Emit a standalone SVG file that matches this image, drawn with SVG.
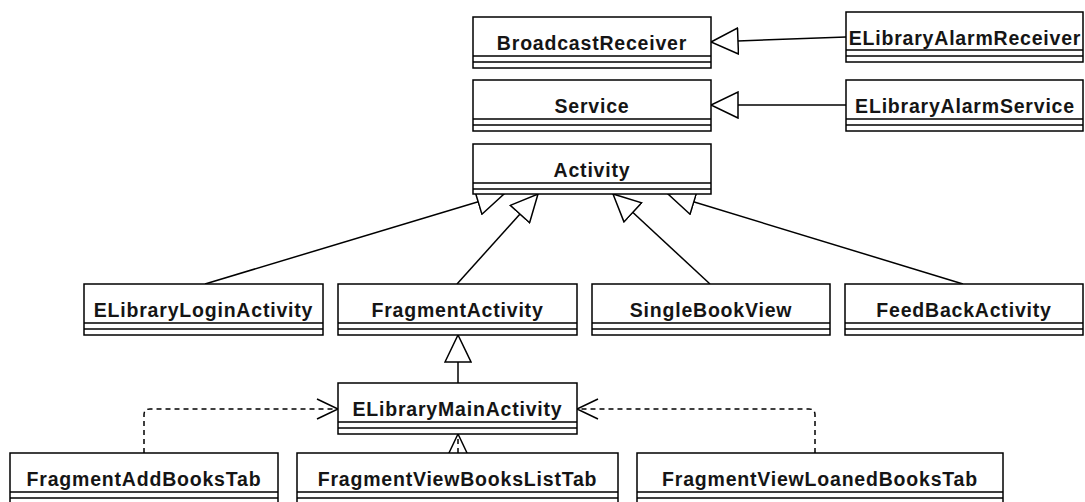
<svg xmlns="http://www.w3.org/2000/svg" width="1085" height="502" viewBox="0 0 1085 502">
  <style>
    .box { fill: #ffffff; stroke: #000000; stroke-width: 1.5; }
    .sep { fill: none; stroke: #000000; stroke-width: 1.5; }
    .lbl { font-family: "Liberation Sans", Arial, sans-serif; font-weight: bold; font-size: 19.5px; letter-spacing: 0.8px; fill: #151515; text-anchor: middle; }
    .gen { fill: none; stroke: #000000; stroke-width: 1.5; marker-end: url(#hollowTri); }
    .dep { fill: none; stroke: #000000; stroke-width: 1.5; stroke-dasharray: 5 4; marker-end: url(#openArrow); }
  </style>
  <defs>
    <!-- generalization: hollow triangle -->
    <marker id="hollowTri" markerUnits="userSpaceOnUse" viewBox="0 0 30 28" refX="28" refY="14" markerWidth="30" markerHeight="28" orient="auto">
      <path d="M1,1 L28,14 L1,27 Z" fill="#ffffff" stroke="#000000" stroke-width="1.5"/>
    </marker>
    <!-- dependency: open arrowhead -->
    <marker id="openArrow" markerUnits="userSpaceOnUse" viewBox="0 0 24 24" refX="22" refY="12" markerWidth="24" markerHeight="24" orient="auto">
      <path d="M1,2 L22,12 L1,22" fill="none" stroke="#000000" stroke-width="1.5" stroke-dasharray="none"/>
    </marker>
  </defs>

  <rect width="1085" height="502" fill="#ffffff"/>

  <!-- connectors -->
  <g id="connectors">
    <line class="gen" x1="846" y1="37" x2="711" y2="42"/>
    <line class="gen" x1="846" y1="105" x2="711" y2="105"/>
    <line class="gen" x1="205" y1="284" x2="504" y2="194"/>
    <line class="gen" x1="457" y1="284" x2="538" y2="194"/>
    <line class="gen" x1="710" y1="284" x2="613" y2="194"/>
    <line class="gen" x1="963" y1="284" x2="668" y2="194"/>
    <line class="gen" x1="458" y1="383" x2="458" y2="335"/>
    <path class="dep" d="M144,453 V415 Q144,409 150,409 H338"/>
    <path class="dep" d="M815,453 V415 Q815,409 809,409 H577"/>
    <path class="dep" d="M458,453 V434"/>
  </g>

  <!-- classes -->
  <g id="BroadcastReceiver">
    <rect class="box" x="473" y="17" width="238" height="51"/>
    <path class="sep" d="M473,56 H711 M473,62 H711"/>
    <text class="lbl" x="592" y="50">BroadcastReceiver</text>
  </g>
  <g id="Service">
    <rect class="box" x="473" y="80" width="238" height="51"/>
    <path class="sep" d="M473,119 H711 M473,125 H711"/>
    <text class="lbl" x="592" y="113">Service</text>
  </g>
  <g id="Activity">
    <rect class="box" x="473" y="144" width="238" height="50"/>
    <path class="sep" d="M473,183 H711 M473,189 H711"/>
    <text class="lbl" x="592" y="177">Activity</text>
  </g>
  <g id="ELibraryAlarmReceiver">
    <rect class="box" x="846" y="12" width="237" height="50"/>
    <path class="sep" d="M846,50 H1083 M846,56 H1083"/>
    <text class="lbl" x="965" y="45">ELibraryAlarmReceiver</text>
  </g>
  <g id="ELibraryAlarmService">
    <rect class="box" x="846" y="80" width="237" height="51"/>
    <path class="sep" d="M846,119 H1083 M846,125 H1083"/>
    <text class="lbl" x="965" y="113">ELibraryAlarmService</text>
  </g>
  <g id="ELibraryLoginActivity">
    <rect class="box" x="84" y="284" width="239" height="51"/>
    <path class="sep" d="M84,323 H323 M84,329 H323"/>
    <text class="lbl" x="203.5" y="317">ELibraryLoginActivity</text>
  </g>
  <g id="FragmentActivity">
    <rect class="box" x="338" y="284" width="239" height="51"/>
    <path class="sep" d="M338,323 H577 M338,329 H577"/>
    <text class="lbl" x="457.5" y="317">FragmentActivity</text>
  </g>
  <g id="SingleBookView">
    <rect class="box" x="592" y="284" width="238" height="51"/>
    <path class="sep" d="M592,323 H830 M592,329 H830"/>
    <text class="lbl" x="711" y="317">SingleBookView</text>
  </g>
  <g id="FeedBackActivity">
    <rect class="box" x="845" y="284" width="238" height="51"/>
    <path class="sep" d="M845,323 H1083 M845,329 H1083"/>
    <text class="lbl" x="964" y="317">FeedBackActivity</text>
  </g>
  <g id="ELibraryMainActivity">
    <rect class="box" x="338" y="383" width="239" height="51"/>
    <path class="sep" d="M338,422 H577 M338,428 H577"/>
    <text class="lbl" x="457.5" y="416">ELibraryMainActivity</text>
  </g>
  <g id="FragmentAddBooksTab">
    <rect class="box" x="10" y="453" width="268" height="51"/>
    <path class="sep" d="M10,492 H278 M10,498 H278"/>
    <text class="lbl" x="144" y="486">FragmentAddBooksTab</text>
  </g>
  <g id="FragmentViewBooksListTab">
    <rect class="box" x="297" y="453" width="321" height="51"/>
    <path class="sep" d="M297,492 H618 M297,498 H618"/>
    <text class="lbl" x="457.5" y="486">FragmentViewBooksListTab</text>
  </g>
  <g id="FragmentViewLoanedBooksTab">
    <rect class="box" x="637" y="453" width="366" height="51"/>
    <path class="sep" d="M637,492 H1003 M637,498 H1003"/>
    <text class="lbl" x="820" y="486">FragmentViewLoanedBooksTab</text>
  </g>
</svg>
